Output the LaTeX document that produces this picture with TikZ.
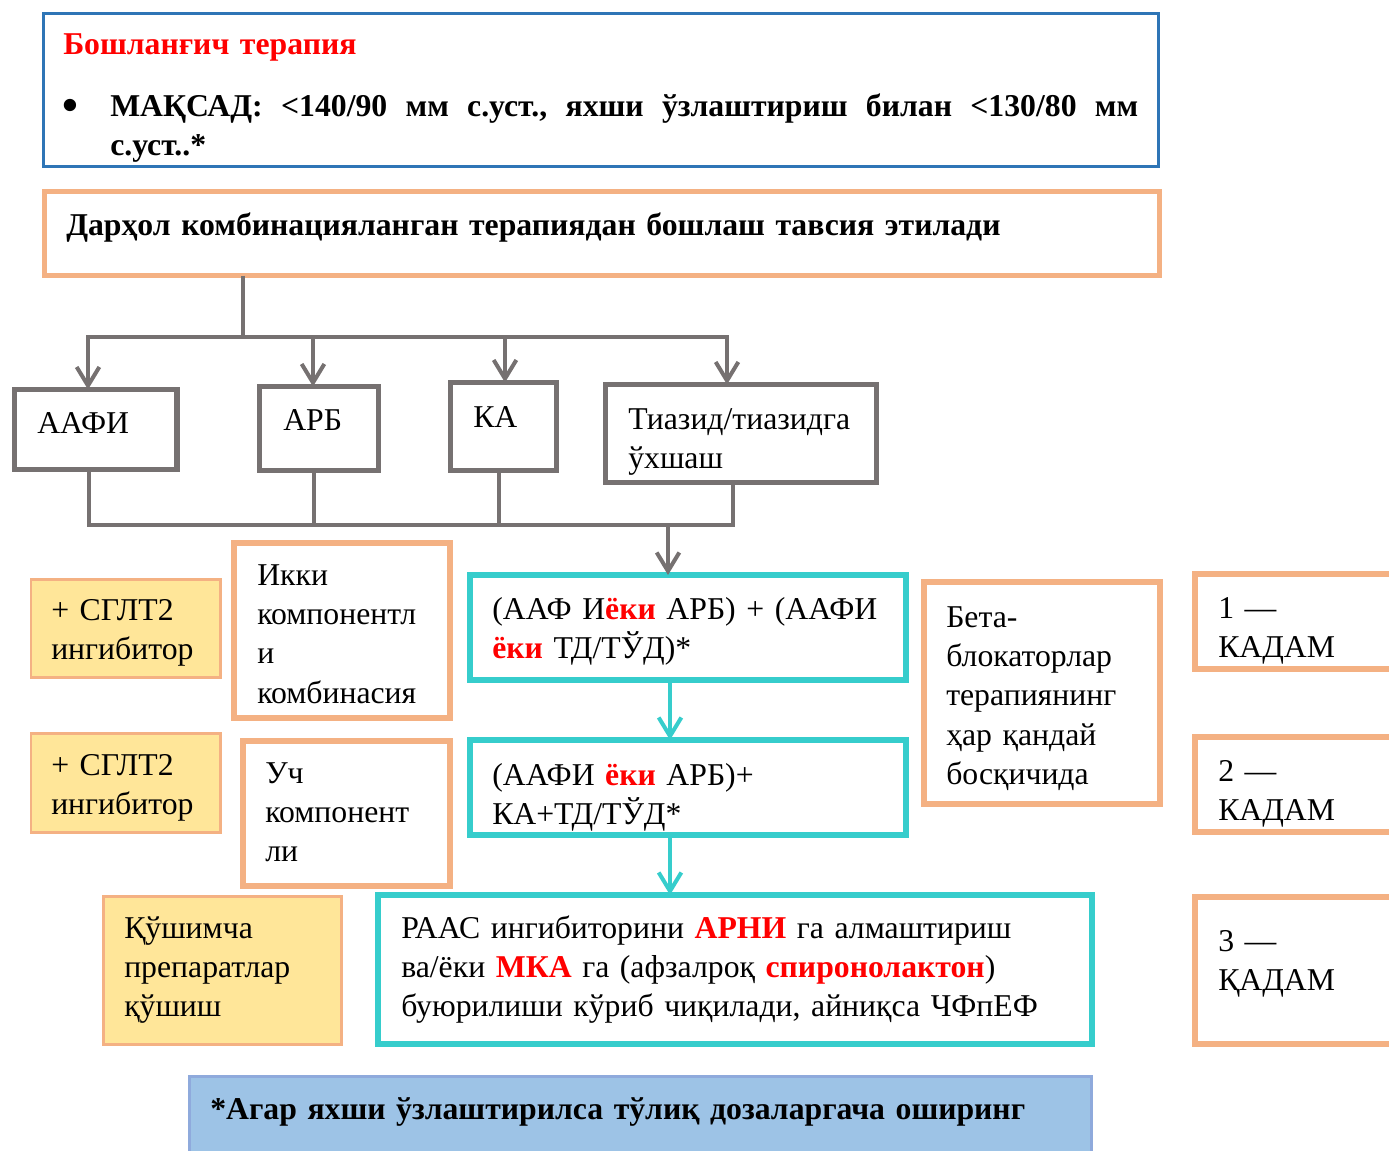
\documentclass[tikz,border=0pt]{standalone}
\usepackage{fontspec}
\setmainfont{Liberation Serif}
\usetikzlibrary{arrows.meta}

\definecolor{frameblue}{HTML}{2E75B6}
\definecolor{peach}{HTML}{F4B183}
\definecolor{slate}{HTML}{767171}
\definecolor{aqua}{HTML}{36CDCC}
\definecolor{butter}{HTML}{FFE699}
\definecolor{skyfill}{HTML}{9DC3E6}
\definecolor{skyline}{HTML}{8FAADC}

\newcommand\bodysize{\fontsize{23.8pt}{29.6pt}\selectfont}
\newcommand\hl[1]{\textcolor{red}{\textbf{#1}}}
% box by its outline: name, style, x1, y1, x2, y2 (pixel units, y down)
\newcommand\placebox[6]{%
  \node[#2, anchor=north west, minimum width={(#5-#3)*0.75pt},
        minimum height={(#6-#4)*0.75pt}] (#1) at (#3,#4) {};}

\begin{document}
\begin{tikzpicture}[x=0.75pt,y=-0.75pt,
  box/.style={rectangle, inner sep=0pt, outer sep=0pt},
  goalbox/.style={box, draw=frameblue, line width=2.2pt, fill=white},
  startbox/.style={box, draw=peach, line width=3.8pt},
  drugbox/.style={box, draw=slate, line width=3.8pt},
  regimen/.style={box, draw=aqua, line width=4.2pt},
  notebox/.style={box, draw=peach, line width=4.5pt},
  addbox/.style={box, draw=peach, line width=2.2pt, fill=butter},
  footbox/.style={box, draw=skyline, line width=2.2pt, fill=skyfill},
  txt/.style={anchor=base west, inner sep=0pt, text width=800pt, align=left, font=\bodysize},
  wire/.style={draw=slate, line width=3pt},
  aquawire/.style={draw=aqua, line width=3pt},
  tip/.style={-{Straight Barb[length=14pt,width=17pt]}}
]
\useasboundingbox (0,0) rectangle (1389,1150);
\clip (0,0) rectangle (1389,1150);

% ---- goal and start boxes
\placebox{goal}{goalbox}{43.5}{13.5}{1158.5}{166.5}
\placebox{start}{startbox}{44.5}{191.5}{1159.5}{275.5}

\node[txt] (goaltitle) at (63,54) {\hl{Бошланғич терапия}};
\node[txt] (goaltext) at (110,116) {\textbf{\llap{\raisebox{-3pt}{\fontsize{34pt}{34pt}\selectfont •}\hspace{24pt}}%
  \hbox to 771pt{МАҚСАД:\hfill <140/90\hfill мм\hfill с.уст.,\hfill яхши\hfill ўзлаштириш\hfill билан\hfill <130/80\hfill мм}}\\
  \textbf{с.уст..*}};
\node[txt] (starttext) at (66,235) {\textbf{Дарҳол комбинацияланган терапиядан бошлаш тавсия этилади}};

% ---- drug classes
\placebox{aafi}{drugbox}{14.5}{389.5}{177}{469.5}
\placebox{arb}{drugbox}{259.5}{386.5}{378.5}{470.5}
\placebox{ka}{drugbox}{450.5}{382.5}{556.5}{470.5}
\placebox{thz}{drugbox}{605.5}{384.5}{876.5}{482.5}

\node[txt] (aafitext) at (37,433) {ААФИ};
\node[txt] (arbtext) at (283,430) {АРБ};
\node[txt] (katext) at (473,427) {КА};
\node[txt] (thztext) at (628,429) {Тиазид/тиазидга\\ўхшаш};

% ---- regimens
\placebox{dual}{regimen}{470}{575}{906}{680}
\placebox{triple}{regimen}{470}{740}{906}{835}
\placebox{raas}{regimen}{378}{895}{1092}{1044}

\node[txt] (dualtext) at (492,619) {(ААФ И\hl{ёки} АРБ) + (ААФИ\\\hl{ёки} ТД/ТЎД)*};
\node[txt] (tripletext) at (492,785) {(ААФИ \hl{ёки} АРБ)+\\КА+ТД/ТЎД*};
\node[txt] (raastext) at (401,938) {РААС ингибиторини \hl{АРНИ} га алмаштириш\\
  ва/ёки \hl{МКА} га (афзалроқ \hl{спиронолактон})\\
  буюрилиши кўриб чиқилади, айниқса ЧФпЕФ};

% ---- side notes
\placebox{sglt1}{addbox}{31}{579.5}{220.5}{677.5}
\placebox{sglt2}{addbox}{31}{733.5}{220.5}{832.5}
\placebox{extra}{addbox}{103.5}{896.5}{341.5}{1044.5}
\node[txt] (sglt1text) at (51,620) {+ СГЛТ2\\ингибитор};
\node[txt] (sglt2text) at (51,775) {+ СГЛТ2\\ингибитор};
\node[txt] (extratext) at (124,938) {Қўшимча\\препаратлар\\қўшиш};

\placebox{twocomp}{notebox}{234}{543}{450}{718}
\placebox{threecomp}{notebox}{243}{741}{450}{886}
\placebox{beta}{notebox}{924}{582}{1160}{804}
\node[txt] (twocomptext) at (257,585) {Икки\\компонентл\\и\\комбинасия};
\node[txt] (threecomptext) at (265,783) {Уч\\компонент\\ли};
\node[txt] (betatext) at (946,627) {Бета-\\блокаторлар\\терапиянинг\\ҳар қандай\\босқичида};

% ---- steps
\placebox{step1}{notebox}{1195}{574}{1410}{669}
\placebox{step2}{notebox}{1195}{737}{1410}{832}
\placebox{step3}{notebox}{1195}{897}{1410}{1044}
\node[txt] (step1text) at (1218,618) {1 —\\КАДАМ};
\node[txt] (step2text) at (1218,781) {2 —\\КАДАМ};
\node[txt] (step3text) at (1218,951) {3 —\\ҚАДАМ};

% ---- footnote
\placebox{foot}{footbox}{189.5}{1076.5}{1091.5}{1170}
\node[txt] (foottext) at (210,1119) {\textbf{*Агар яхши ўзлаштирилса тўлиқ дозаларгача оширинг}};

% ---- connectors: start -> drug classes
\coordinate (split) at (242.5,337);
\coordinate (d1) at (88,337);
\coordinate (d2) at (313,337);
\coordinate (d3) at (505,337);
\coordinate (d4) at (727,337);
\draw[wire] (split |- start.south) -- (split);
\draw[wire, line cap=rect] (d1) -- (d4);
\draw[wire, tip] (d1) -- (d1 |- aafi.north);
\draw[wire, tip] (d2) -- (d2 |- arb.north);
\draw[wire, tip] (d3) -- (d3 |- ka.north);
\draw[wire, tip] (d4) -- (d4 |- thz.north);

% ---- connectors: drug classes -> dual combination
\coordinate (u1) at (89,525);
\coordinate (u2) at (314,525);
\coordinate (u3) at (499,525);
\coordinate (u4) at (733,525);
\coordinate (merge) at (668,525);
\draw[wire] (u1 |- aafi.south) -- (u1);
\draw[wire] (u2 |- arb.south) -- (u2);
\draw[wire] (u3 |- ka.south) -- (u3);
\draw[wire] (u4 |- thz.south) -- (u4);
\draw[wire, line cap=rect] (u1) -- (u4);
\draw[wire, tip] (merge) -- (merge |- dual.north);

% ---- connectors between regimens
\coordinate (spine) at (670,700);
\draw[aquawire, tip] (spine |- dual.south) -- (spine |- triple.north);
\draw[aquawire, tip] (spine |- triple.south) -- (spine |- raas.north);
\end{tikzpicture}
\end{document}
